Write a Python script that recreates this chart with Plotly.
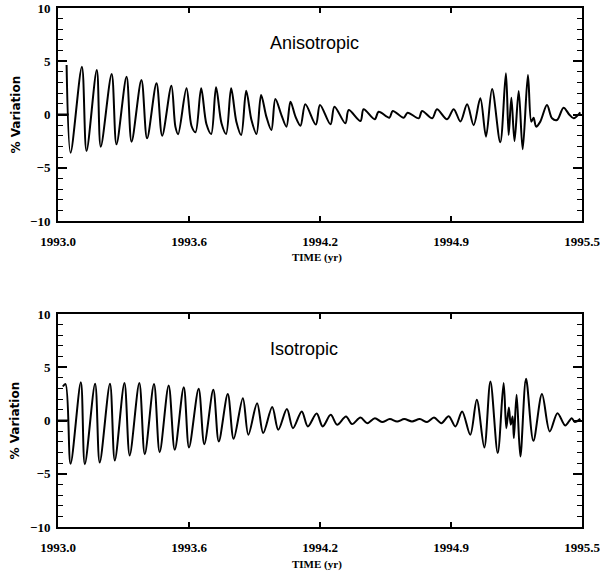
import plotly.graph_objects as go

# ---------------- data ----------------
aniso_t = [1993.041, 1993.060, 1993.114, 1993.136, 1993.185, 1993.204, 1993.256, 1993.279,
           1993.327, 1993.351, 1993.398, 1993.425, 1993.470, 1993.497, 1993.541, 1993.560,
           1993.573, 1993.613, 1993.637, 1993.656, 1993.683, 1993.708, 1993.731, 1993.754,
           1993.780, 1993.802, 1993.826, 1993.851, 1993.874, 1993.898, 1993.923, 1993.947,
           1993.969, 1993.994, 1994.018, 1994.037, 1994.066, 1994.090, 1994.109, 1994.133,
           1994.157, 1994.180, 1994.230, 1994.250, 1994.300, 1994.319, 1994.371, 1994.387,
           1994.443, 1994.458, 1994.511, 1994.530, 1994.581, 1994.597, 1994.649, 1994.668,
           1994.721, 1994.737, 1994.785, 1994.808, 1994.856, 1994.888, 1994.920, 1994.952,
           1994.983, 1995.015, 1995.042, 1995.071, 1995.110, 1995.137, 1995.150, 1995.163,
           1995.178, 1995.198, 1995.217, 1995.242, 1995.258, 1995.269, 1995.281, 1995.301,
           1995.333, 1995.357, 1995.381, 1995.412, 1995.439, 1995.460, 1995.492]
aniso_v = [4.65, -3.59, 4.49, -3.43, 4.18, -3.02, 3.80, -2.80,
           3.55, -2.55, 3.24, -2.24, 2.93, -1.99, 2.70, -1.14,
           -1.85, 2.46, -1.08, -1.67, 2.46, -0.89, -1.83, 2.55,
           -0.83, -1.83, 2.46, -0.67, -1.92, 2.23, -0.52, -1.83,
           1.83, -0.20, -1.46, 1.46, -0.05, -1.14, 1.20, -0.20,
           -1.05, 0.96, -0.95, 0.90, -0.92, 0.73, -0.83, 0.42,
           -0.61, 0.49, -0.45, 0.26, -0.30, 0.33, -0.30, 0.17,
           -0.36, 0.33, -0.36, 0.49, -0.45, 0.50, -0.65, 0.96,
           -1.00, 1.52, -2.08, 2.39, -2.61, 3.87, -1.92, 1.58,
           -2.49, 2.21, -3.27, 3.71, -0.67, -0.30, -1.14, -0.67,
           0.89, -0.36, -0.52, 0.64, 0.00, -0.36, 0.20]

iso_t = [1993.023, 1993.036, 1993.060, 1993.109, 1993.128, 1993.177, 1993.199, 1993.248,
         1993.271, 1993.317, 1993.342, 1993.388, 1993.414, 1993.458, 1993.485, 1993.528,
         1993.557, 1993.600, 1993.625, 1993.671, 1993.698, 1993.741, 1993.767, 1993.810,
         1993.838, 1993.882, 1993.908, 1993.950, 1993.979, 1994.022, 1994.051, 1994.092,
         1994.121, 1994.163, 1994.192, 1994.234, 1994.263, 1994.301, 1994.332, 1994.374,
         1994.403, 1994.443, 1994.475, 1994.512, 1994.546, 1994.583, 1994.618, 1994.652,
         1994.689, 1994.726, 1994.761, 1994.794, 1994.829, 1994.864, 1994.896, 1994.928,
         1994.967, 1994.998, 1995.034, 1995.063, 1995.098, 1995.126, 1995.139, 1995.151,
         1995.160, 1995.169, 1995.175, 1995.188, 1995.206, 1995.233, 1995.268, 1995.309,
         1995.346, 1995.383, 1995.420, 1995.451, 1995.466, 1995.492]
iso_v = [3.19, 3.42, -4.07, 3.60, -4.10, 3.45, -3.94, 3.45,
         -3.75, 3.51, -3.28, 3.51, -3.16, 3.42, -2.97, 3.29,
         -2.75, 3.13, -2.53, 2.98, -2.22, 2.88, -1.97, 2.48,
         -1.72, 2.10, -1.34, 1.63, -1.18, 1.26, -0.87, 1.07,
         -0.72, 0.85, -0.56, 0.65, -0.56, 0.53, -0.40, 0.38,
         -0.34, 0.28, -0.25, 0.22, -0.15, 0.13, -0.09, 0.13,
         -0.09, 0.13, -0.15, 0.28, -0.25, 0.40, -0.56, 0.85,
         -1.34, 1.94, -2.53, 3.66, -3.06, 3.51, -0.72, 1.22,
         -0.40, 0.38, -1.65, 2.41, -3.38, 3.92, -1.91, 2.48,
         -1.03, 0.69, -0.47, 0.22, -0.15, 0.16]

# flat zero segment drawn before the first sample
aniso_flat_t = [1993.0, 1993.051]
iso_flat_t = [1993.0, 1993.049]
flat_v = [0, 0]

x_tickvals = [1993.0, 1993.625, 1994.25, 1994.875, 1995.5]
x_ticktext = ["1993.0", "1993.6", "1994.2", "1994.9", "1995.5"]
y_tickvals = [-10, -5, 0, 5, 10]
panel_titles = ["Anisotropic", "Isotropic"]

# ---------------- figure ----------------
fig = go.Figure()
line = dict(color="black", width=2, shape="spline", smoothing=0.9)

fig.add_trace(go.Scatter(x=aniso_flat_t, y=flat_v, mode="lines", line=dict(color="black", width=2),
                         xaxis="x", yaxis="y", showlegend=False))
fig.add_trace(go.Scatter(x=aniso_t, y=aniso_v, mode="lines", line=line,
                         xaxis="x", yaxis="y", showlegend=False))
fig.add_trace(go.Scatter(x=iso_flat_t, y=flat_v, mode="lines", line=dict(color="black", width=2),
                         xaxis="x2", yaxis="y2", showlegend=False))
fig.add_trace(go.Scatter(x=iso_t, y=iso_v, mode="lines", line=line,
                         xaxis="x2", yaxis="y2", showlegend=False))

tick_font = dict(family="Liberation Sans Narrow", size=13, color="black", weight="bold")

def xaxis(anchor):
    return dict(range=[1993.0, 1995.5], tickvals=x_tickvals, ticktext=x_ticktext,
                showline=True, linecolor="black", linewidth=2, mirror="ticks",
                ticks="inside", ticklen=5, tickwidth=1.5, tickcolor="black",
                showgrid=False, zeroline=False, tickfont=tick_font,
                ticklabelstandoff=7, ticklabeloverflow="allow",
                anchor=anchor, domain=[0, 1], automargin=False)

def yaxis(anchor, domain):
    return dict(range=[-10, 10], tickvals=y_tickvals, ticktext=["\u221210", "\u22125", "0", "5", "10"],
                showline=True, linecolor="black", linewidth=2, mirror="ticks",
                ticks="inside", ticklen=9, tickwidth=1.5, tickcolor="black",
                minor=dict(dtick=1, ticks="inside", ticklen=5, tickwidth=1, tickcolor="black"),
                showgrid=False, zeroline=False, tickfont=tick_font,
                ticklabelstandoff=3, ticklabeloverflow="allow",
                anchor=anchor, domain=domain, automargin=False)

fig.update_layout(
    width=600, height=577,
    margin=dict(l=57.5, r=18.3, t=8, b=50),
    paper_bgcolor="white", plot_bgcolor="white",
    xaxis=xaxis("y"), yaxis=yaxis("x", [0.5896, 1.0]),
    xaxis2=xaxis("y2"), yaxis2=yaxis("x2", [0.0, 0.4104]),
    showlegend=False,
)

ann = []
for xr, yr, title in [("x", "y", panel_titles[0]), ("x2", "y2", panel_titles[1])]:
    ann.append(dict(xref=xr + " domain", yref=yr, x=0.4, y=6.7, text=title, showarrow=False,
                    xanchor="left", yanchor="middle",
                    font=dict(family="Liberation Sans", size=18, color="black")))
    ann.append(dict(xref=xr + " domain", yref=yr + " domain", x=0.495, y=0, yshift=-37,
                    text="TIME (yr)", showarrow=False, xanchor="center", yanchor="middle",
                    font=dict(family="Liberation Sans Narrow", size=11, color="black", weight="bold")))
    ann.append(dict(xref="paper", yref=yr, x=0, xshift=-43, y=0, text="% Variation",
                    showarrow=False, textangle=-90, xanchor="center", yanchor="middle",
                    font=dict(family="DejaVu Sans", size=12, color="black", weight="bold")))
fig.update_layout(annotations=ann)

fig.write_html("out.html", config={"displayModeBar": False},
               post_script="document.body.style.margin='0';document.body.style.overflow='hidden';")
